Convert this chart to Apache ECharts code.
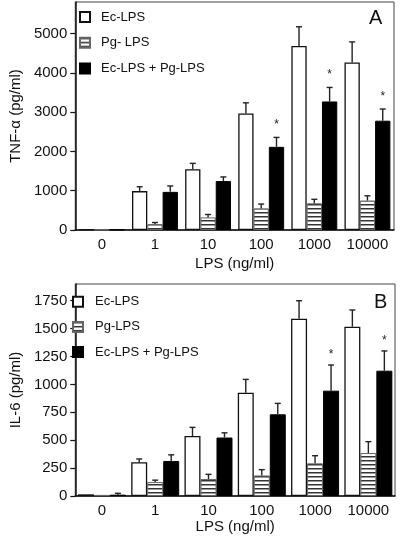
<!DOCTYPE html>
<html>
<head>
<meta charset="utf-8">
<script src="https://cdn.jsdelivr.net/npm/echarts@6/dist/echarts.min.js"></script>
<style>
html,body{margin:0;padding:0;background:#fff;}
#c{width:400px;height:542px;}
</style>
</head>
<body>
<div id="c"></div>
<script>
// ---- data ----
const categories = ['0', '1', '10', '100', '1000', '10000'];
const tnfTicks = [0, 1000, 2000, 3000, 4000, 5000];
const il6Ticks = [0, 250, 500, 750, 1000, 1250, 1500, 1750];

const tnfEc = [15, 990, 1545, 2965, 4680, 4260];
const tnfEcErr = [0, 110, 150, 270, 490, 525];
const tnfPg = [10, 150, 320, 550, 680, 750];
const tnfPgErr = [0, 40, 75, 110, 100, 120];
const tnfMix = [12, 970, 1245, 2115, 3270, 2780];
const tnfMixErr = [0, 150, 105, 240, 356, 297];
const tnfMixStar = [0, 0, 0, 1, 1, 1];

const il6Ec = [15, 302, 538, 926, 1589, 1517];
const il6EcErr = [0, 30, 77, 119, 161, 150];
const il6Pg = [10, 125, 152, 184, 293, 385];
const il6PgErr = [0, 17, 42, 52, 68, 102];
const il6Mix = [12, 314, 524, 732, 944, 1123];
const il6MixErr = [12, 55, 42, 98, 230, 177];
const il6MixStar = [0, 0, 0, 0, 1, 1];

const legendTop = ['Ec-LPS', 'Pg- LPS', 'Ec-LPS + Pg-LPS'];
const legendBottom = ['Ec-LPS', 'Pg-LPS', 'Ec-LPS + Pg-LPS'];

// ---- styles ----
const FONT = '"Liberation Sans", Arial, Helvetica, sans-serif';
function hatch() {
  const c = document.createElement('canvas');
  c.width = 4; c.height = 4;
  const g = c.getContext('2d');
  g.fillStyle = '#fff'; g.fillRect(0, 0, 4, 4);
  g.fillStyle = '#333'; g.fillRect(0, 0, 4, 1);
  g.fillStyle = '#9a9a9a'; g.fillRect(0, 1, 4, 1);
  return c;
}
const hatchImg = hatch();
const styleWhite = { color: '#fff', borderColor: '#111', borderWidth: 1.3 };
const styleHatch = { color: { image: hatchImg, repeat: 'repeat' }, borderColor: '#666', borderWidth: 1 };
const styleBlack = { color: '#000', borderColor: '#000', borderWidth: 1 };

const BW_TOP = 15.3, BW_BOT = 16;

function makeErr(offIdx, barW, starDy) {
  return function (params, api) {
    const idx = api.value(0), v = api.value(1), e = api.value(2), s = api.value(3);
    const p0 = api.coord([idx, v]);
    const p1 = api.coord([idx, v + e]);
    const x = p0[0] + offIdx * barW;
    const children = [];
    if (e > 0) {
      children.push({ type: 'line', shape: { x1: x, y1: p0[1], x2: x, y2: p1[1] }, style: { stroke: '#222', lineWidth: 1.4 } });
      children.push({ type: 'line', shape: { x1: x - 3, y1: p1[1], x2: x + 3, y2: p1[1] }, style: { stroke: '#222', lineWidth: 1.4 } });
    }
    if (s) {
      children.push({ type: 'text', x: x, y: p1[1] - starDy,
        style: { text: '*', fontSize: 12, fill: '#222', align: 'center', verticalAlign: 'middle', fontFamily: FONT } });
    }
    return { type: 'group', children: children };
  };
}
function errData(vals, errs, stars) {
  return categories.map((c, i) => [i, vals[i], errs[i], stars ? stars[i] : 0]);
}

function xAxisCfg(gi, gap) {
  return {
    gridIndex: gi, type: 'category', data: categories,
    name: 'LPS (ng/ml)', nameLocation: 'middle', nameGap: gap,
    nameTextStyle: { fontSize: 15, color: '#111', fontFamily: FONT },
    axisLine: { lineStyle: { color: '#111', width: 1.5 } },
    axisTick: { alignWithLabel: true, interval: 0, length: 5, lineStyle: { color: '#111', width: 1.2 } },
    axisLabel: { fontSize: 15, color: '#111', margin: 7, interval: 0, fontFamily: FONT },
    splitLine: { show: false }
  };
}
function yAxisCfg(gi, max, ticks, name, gap) {
  return {
    gridIndex: gi, type: 'value', min: 0, max: max,
    name: name, nameLocation: 'middle', nameGap: gap, nameRotate: 90,
    nameTextStyle: { fontSize: 15, color: '#111', fontFamily: FONT },
    axisLine: { show: true, lineStyle: { color: '#111', width: 1.5 } },
    axisTick: { show: true, length: 5, customValues: ticks, lineStyle: { color: '#111', width: 1.2 } },
    axisLabel: { fontSize: 15, color: '#111', margin: 8, customValues: ticks, fontFamily: FONT,
      formatter: function (v) { return String(v); } },
    splitLine: { show: false }
  };
}
function legendCfg(data, left, top, gap, pad) {
  return {
    data: data, orient: 'vertical', left: left, top: top, padding: 0,
    itemWidth: 10, itemHeight: 10, itemGap: gap, icon: 'rect',
    selectedMode: false,
    textStyle: { fontSize: 13, color: '#111', fontFamily: FONT, lineHeight: 14, padding: [0, 0, 0, pad] }
  };
}

const option = {
  animation: false,
  backgroundColor: '#fff',
  textStyle: { fontFamily: FONT },
  title: [
    { text: 'A', left: 369, top: 8, padding: 0, textStyle: { fontSize: 20, fontWeight: 'normal', color: '#111', fontFamily: FONT } },
    { text: 'B', left: 374, top: 292, padding: 0, textStyle: { fontSize: 20, fontWeight: 'normal', color: '#111', fontFamily: FONT } }
  ],
  legend: [
    legendCfg(legendTop, 79, 10, 11.7, 6),
    legendCfg(legendBottom, 72, 294.7, 11.2, 7)
  ],
  grid: [
    { left: 70, top: 2, width: 324, height: 228, show: true, borderColor: '#444', borderWidth: 1, backgroundColor: 'transparent' },
    { left: 63, top: 284, width: 332, height: 212, show: true, borderColor: '#444', borderWidth: 1, backgroundColor: 'transparent' }
  ],
  xAxis: [xAxisCfg(0, 26), xAxisCfg(1, 22)],
  yAxis: [
    yAxisCfg(0, 5800, tnfTicks, 'TNF-α (pg/ml)', 47),
    yAxisCfg(1, 1900, il6Ticks, 'IL-6 (pg/ml)', 46)
  ],
  series: [
    { name: 'Ec-LPS', type: 'bar', xAxisIndex: 0, yAxisIndex: 0, data: tnfEc, barWidth: BW_TOP, barGap: '0%', itemStyle: styleWhite },
    { name: 'Pg- LPS', type: 'bar', xAxisIndex: 0, yAxisIndex: 0, data: tnfPg, barWidth: BW_TOP, barGap: '0%', itemStyle: styleHatch },
    { name: 'Ec-LPS + Pg-LPS', type: 'bar', xAxisIndex: 0, yAxisIndex: 0, data: tnfMix, barWidth: BW_TOP, barGap: '0%', itemStyle: styleBlack },
    { type: 'custom', xAxisIndex: 0, yAxisIndex: 0, z: 5, renderItem: makeErr(-1, BW_TOP, 12.5), data: errData(tnfEc, tnfEcErr), encode: { x: 0, y: 1 } },
    { type: 'custom', xAxisIndex: 0, yAxisIndex: 0, z: 5, renderItem: makeErr(0, BW_TOP, 12.5), data: errData(tnfPg, tnfPgErr), encode: { x: 0, y: 1 } },
    { type: 'custom', xAxisIndex: 0, yAxisIndex: 0, z: 5, renderItem: makeErr(1, BW_TOP, 12.5), data: errData(tnfMix, tnfMixErr, tnfMixStar), encode: { x: 0, y: 1 } },

    { name: 'Ec-LPS', type: 'bar', xAxisIndex: 1, yAxisIndex: 1, data: il6Ec, barWidth: BW_BOT, barGap: '0%', itemStyle: styleWhite },
    { name: 'Pg-LPS', type: 'bar', xAxisIndex: 1, yAxisIndex: 1, data: il6Pg, barWidth: BW_BOT, barGap: '0%', itemStyle: styleHatch },
    { name: 'Ec-LPS + Pg-LPS', type: 'bar', xAxisIndex: 1, yAxisIndex: 1, data: il6Mix, barWidth: BW_BOT, barGap: '0%', itemStyle: styleBlack },
    { type: 'custom', xAxisIndex: 1, yAxisIndex: 1, z: 5, renderItem: makeErr(-1, BW_BOT, 10), data: errData(il6Ec, il6EcErr), encode: { x: 0, y: 1 } },
    { type: 'custom', xAxisIndex: 1, yAxisIndex: 1, z: 5, renderItem: makeErr(0, BW_BOT, 10), data: errData(il6Pg, il6PgErr), encode: { x: 0, y: 1 } },
    { type: 'custom', xAxisIndex: 1, yAxisIndex: 1, z: 5, renderItem: makeErr(1, BW_BOT, 10), data: errData(il6Mix, il6MixErr, il6MixStar), encode: { x: 0, y: 1 } }
  ]
};

const chart = echarts.init(document.getElementById('c'), null, { renderer: 'canvas' });
chart.setOption(option);
</script>
</body>
</html>
